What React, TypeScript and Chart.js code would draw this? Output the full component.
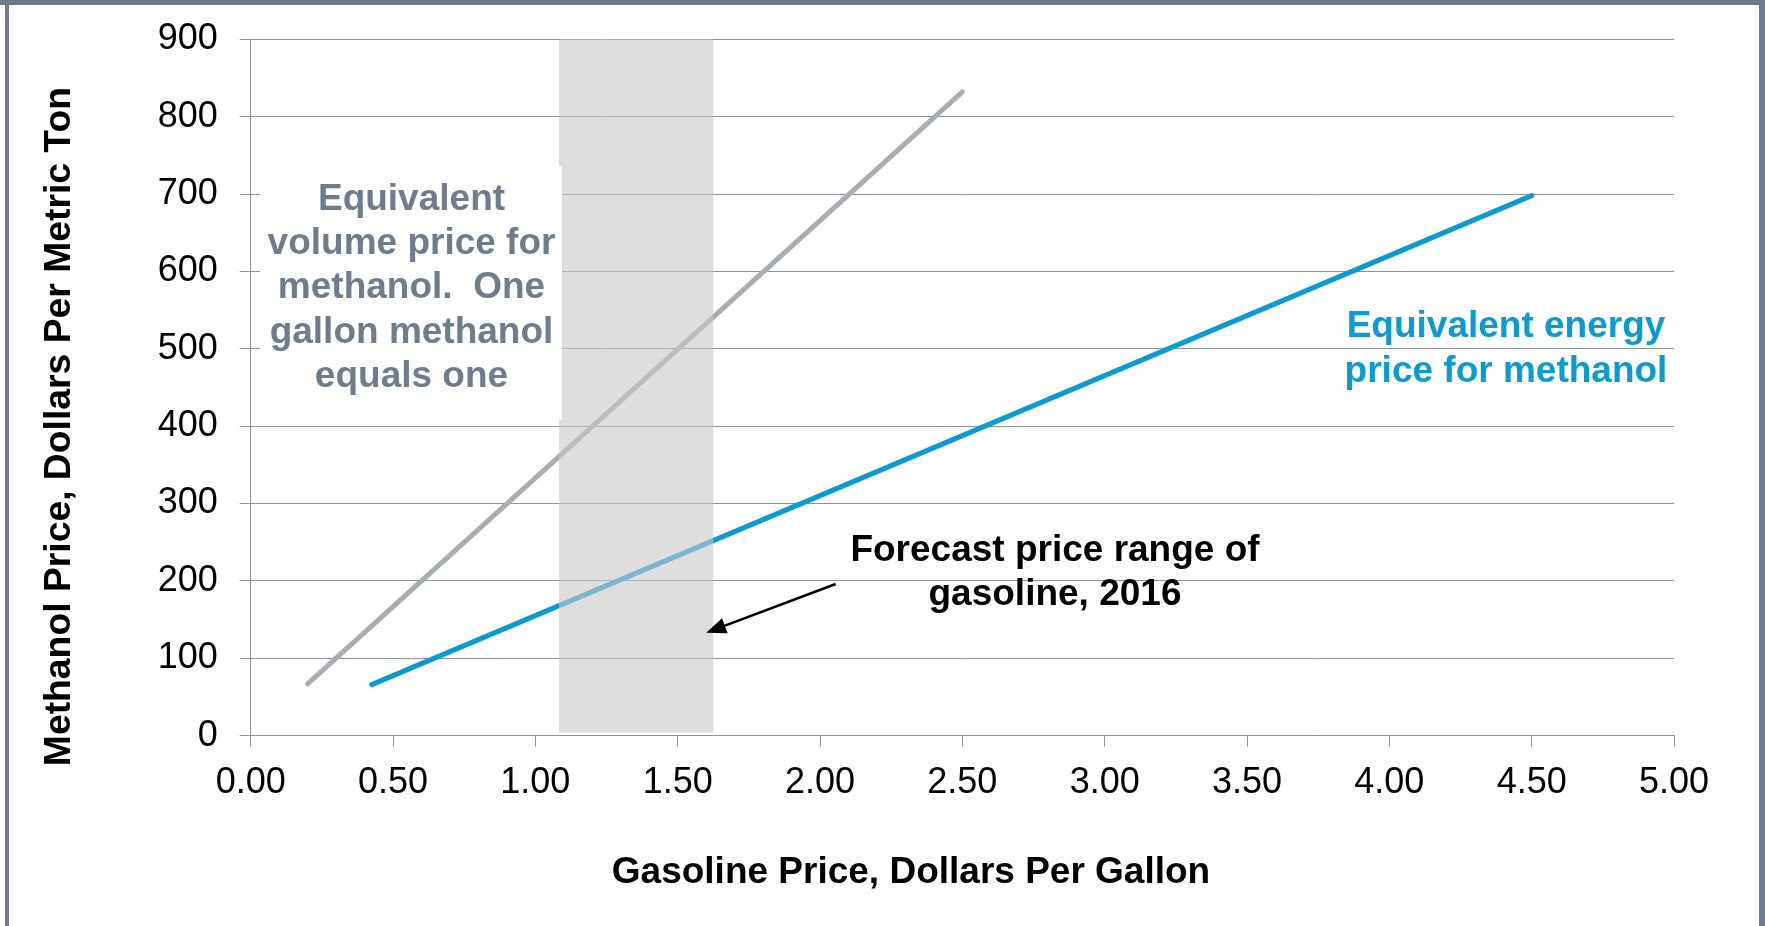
import React, { useEffect, useRef } from "react";
import { Chart, registerables } from "chart.js";

Chart.register(...registerables);

// ---- data ----
const xTickMin = 0;
const xTickMax = 5;
const xTickStep = 0.5;
const yTickMin = 0;
const yTickMax = 900;
const yTickStep = 100;

const volumeX = [0.2, 2.5];
const volumeY = [67, 832];
const energyX = [0.425, 4.5];
const energyY = [66, 698];

const forecastRangeX = [1.083, 1.625];
const forecastRangeY = [4, 900];

const volumeLabel = ["Equivalent", "volume price for", "methanol.  One", "gallon methanol", "equals one"];
const energyLabel = ["Equivalent energy", "price for methanol"];
const forecastLabel = ["Forecast price range of", "gasoline, 2016"];
const xTitle = "Gasoline Price, Dollars Per Gallon";
const yTitle = "Methanol Price, Dollars Per Metric Ton";

// arrow from / to, in data units
const arrowFrom = [2.055, 196];
const arrowTo = [1.6, 133];

const FONT = "'Liberation Sans', Arial, Helvetica, sans-serif";
const GRID = "#8A94A1";
const BLUE = "#0A9BD3";
const GRAYLINE = "#A7ADB3";
const SLATE = "#6F7C8C";
const FRAME = "#6E7A88";

const W = 1765;
const H = 926;

const annotations = {
  id: "annotations",
  beforeDraw(chart: any) {
    const ctx = chart.ctx;
    ctx.save();
    ctx.fillStyle = "#ffffff";
    ctx.fillRect(0, 0, W, H);
    ctx.restore();
  },
  afterDatasetsDraw(chart: any) {
    const ctx = chart.ctx;
    const xs = chart.scales.x;
    const ys = chart.scales.y;
    const x1 = xs.getPixelForValue(forecastRangeX[0]);
    const x2 = xs.getPixelForValue(forecastRangeX[1]);
    const y1 = ys.getPixelForValue(forecastRangeY[1]);
    const y2 = ys.getPixelForValue(forecastRangeY[0]);
    ctx.save();
    ctx.fillStyle = "rgba(200,200,200,0.6)";
    ctx.fillRect(x1, y1, x2 - x1, y2 - y1);
    ctx.restore();
  },
  afterDraw(chart: any) {
    const ctx = chart.ctx;
    const xs = chart.scales.x;
    const ys = chart.scales.y;
    ctx.save();

    // white label box
    ctx.fillStyle = "#ffffff";
    ctx.fillRect(260, 166, 302, 254);

    ctx.font = `bold 37px ${FONT}`;
    ctx.textAlign = "center";
    ctx.textBaseline = "alphabetic";

    ctx.fillStyle = SLATE;
    const vb = [210, 254, 298, 343, 387];
    volumeLabel.forEach((t, i) => ctx.fillText(t, 411.5, vb[i]));

    ctx.fillStyle = BLUE;
    const eb = [337, 382];
    energyLabel.forEach((t, i) => ctx.fillText(t, 1506, eb[i]));

    ctx.fillStyle = "#000000";
    const fb = [561, 605];
    forecastLabel.forEach((t, i) => ctx.fillText(t, 1055, fb[i]));

    // axis titles
    ctx.fillText(xTitle, 911, 883);
    ctx.save();
    ctx.translate(69.5, 426.6);
    ctx.rotate(-Math.PI / 2);
    ctx.font = `bold 37.3px ${FONT}`;
    ctx.fillText(yTitle, 0, 0);
    ctx.restore();

    // arrow
    const ax = xs.getPixelForValue(arrowFrom[0]);
    const ay = ys.getPixelForValue(arrowFrom[1]);
    const bx = xs.getPixelForValue(arrowTo[0]);
    const by = ys.getPixelForValue(arrowTo[1]);
    const ang = Math.atan2(by - ay, bx - ax);
    const hl = 20;
    const hw = 8;
    const bxs = bx - Math.cos(ang) * (hl - 2);
    const bys = by - Math.sin(ang) * (hl - 2);
    ctx.strokeStyle = "#000000";
    ctx.lineWidth = 2.5;
    ctx.beginPath();
    ctx.moveTo(ax, ay);
    ctx.lineTo(bxs, bys);
    ctx.stroke();
    ctx.fillStyle = "#000000";
    ctx.beginPath();
    ctx.moveTo(bx, by);
    const hbx = bx - Math.cos(ang) * hl;
    const hby = by - Math.sin(ang) * hl;
    ctx.lineTo(hbx + Math.sin(ang) * hw, hby - Math.cos(ang) * hw);
    ctx.lineTo(hbx - Math.sin(ang) * hw, hby + Math.cos(ang) * hw);
    ctx.closePath();
    ctx.fill();

    // frame
    ctx.fillStyle = FRAME;
    ctx.fillRect(0, 0, W, 5);
    ctx.fillRect(5, 0, 4, H);
    ctx.fillRect(1759, 0, 6, H);

    ctx.restore();
  },
};

export default function App() {
  const ref = useRef<HTMLCanvasElement | null>(null);

  useEffect(() => {
    document.body.style.margin = "0";
    document.body.style.overflow = "hidden";
    const canvas = ref.current;
    if (!canvas) return;
    const chart = new Chart(canvas, {
      type: "line",
      data: {
        datasets: [
          {
            label: "Volume",
            data: volumeX.map((x, i) => ({ x, y: volumeY[i] })),
            borderColor: GRAYLINE,
            borderWidth: 5,
            borderCapStyle: "round",
            pointRadius: 0,
            tension: 0,
            order: 2,
          },
          {
            label: "Energy",
            data: energyX.map((x, i) => ({ x, y: energyY[i] })),
            borderColor: BLUE,
            borderWidth: 5,
            borderCapStyle: "round",
            pointRadius: 0,
            tension: 0,
            order: 1,
          },
        ],
      },
      options: {
        animation: false,
        responsive: false,
        maintainAspectRatio: false,
        layout: { padding: { left: 0, right: 91, top: 39.3, bottom: 0 } },
        plugins: { legend: { display: false }, tooltip: { enabled: false } },
        scales: {
          x: {
            type: "linear",
            min: xTickMin,
            max: xTickMax,
            ticks: {
              stepSize: xTickStep,
              callback: (v: any) => Number(v).toFixed(2),
              font: { family: FONT, size: 36 },
              color: "#000000",
              padding: 15,
              maxRotation: 0,
              autoSkip: false,
            },
            grid: { drawOnChartArea: false, drawTicks: true, tickLength: 11, color: GRID, lineWidth: 1 },
            border: { color: GRID, width: 1 },
            afterFit: (s: any) => {
              s.height = H - 735.7;
              s.paddingLeft = 0;
              s.paddingRight = 0;
            },
          },
          y: {
            type: "linear",
            min: yTickMin,
            max: yTickMax,
            ticks: {
              stepSize: yTickStep,
              font: { family: FONT, size: 36 },
              color: "#000000",
              padding: 22,
            },
            grid: { drawTicks: true, tickLength: 11, color: GRID, lineWidth: 1 },
            border: { color: GRID, width: 1 },
            afterFit: (s: any) => {
              s.width = 250.7;
              s.paddingTop = 0;
              s.paddingBottom = 0;
            },
          },
        },
      },
      plugins: [annotations],
    });
    return () => chart.destroy();
  }, []);

  return (
    <div style={{ position: "absolute", left: 0, top: 0, width: W, height: H }}>
      <canvas ref={ref} width={W} height={H} style={{ width: W, height: H, display: "block" }} />
    </div>
  );
}
